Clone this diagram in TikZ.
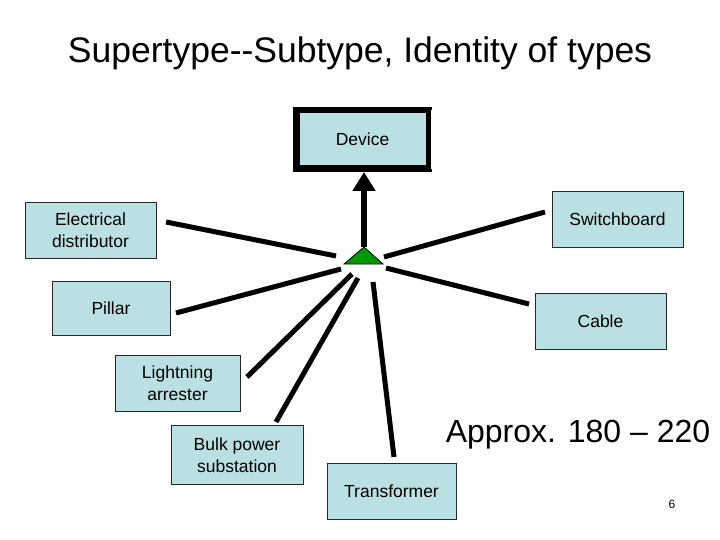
\documentclass[tikz,border=0pt]{standalone}
\usepackage{fontspec}
\setmainfont{Liberation Sans}
\usetikzlibrary{arrows.meta}
\definecolor{boxblue}{RGB}{187,224,227}
\definecolor{trigreen}{RGB}{0,153,0}
\begin{document}
\begin{tikzpicture}[x=1pt,y=-1pt,
  box/.style={draw=black!85, line width=0.8pt, fill=boxblue, align=center, inner sep=0pt,
    font=\fontsize{17.5}{21.5}\selectfont},
  spoke/.style={line width=5pt},
  uparrow/.style={line width=6pt, -{Triangle[width=22pt,length=19pt]}},
]
\useasboundingbox[fill=white] (0,0) rectangle (720,540);
\node[font=\fontsize{35.5}{40}\selectfont] (title) at (360,53) {Supertype{-}{-}Subtype, Identity of types};

% Device box with heavy border
\node[box, draw=black, line width=6.5pt, minimum width=132.5pt, minimum height=58.5pt] (dev) at (362.5,139.5) {Device};
\draw[white, line width=1.4pt] ([xshift=-0.2pt,yshift=-3pt]dev.north east) -- ([xshift=-0.2pt,yshift=3pt]dev.south east);

% subtype boxes
\node[box, minimum width=131pt, minimum height=56pt] (ed) at (90.5,230) {Electrical\\distributor};
\node[box, minimum width=131pt, minimum height=56pt] (sw) at (617.5,219) {Switchboard};
\node[box, minimum width=118pt, minimum height=54pt] (pil) at (111,308) {Pillar};
\node[box, minimum width=131pt, minimum height=56pt] (cab) at (600.5,321) {Cable};
\node[box, minimum width=125pt, minimum height=56pt] (la) at (177.5,383) {Lightning\\arrester};
\node[box, minimum width=132pt, minimum height=59pt] (bps) at (237,455) {Bulk power\\substation};
\node[box, minimum width=129pt, minimum height=56pt] (tr) at (391.5,491) {Transformer};

% hub triangle
\coordinate (apex) at (364,247);
\coordinate (bl) at (344,264);
\coordinate (br) at (383,264);
\draw[uparrow] (apex) -- (apex |- dev.south);
\draw[fill=trigreen, line width=0.8pt] (bl) -- (apex) -- (br) -- cycle;

% spokes
\coordinate (s1a) at (336,256); \coordinate (s1b) at (166,222);
\coordinate (s2a) at (384,257); \coordinate (s2b) at (545,212);
\coordinate (s3a) at (341,269); \coordinate (s3b) at (176,313);
\coordinate (s4a) at (386,268); \coordinate (s4b) at (529,304);
\coordinate (s5a) at (352,274); \coordinate (s5b) at (247,377);
\coordinate (s6a) at (358,278); \coordinate (s6b) at (276,422);
\coordinate (s7a) at (373,282); \coordinate (s7b) at (394,457);
\draw[spoke] (s1a) -- (s1b);
\draw[spoke] (s2a) -- (s2b);
\draw[spoke] (s3a) -- (s3b);
\draw[spoke] (s4a) -- (s4b);
\draw[spoke] (s5a) -- (s5b);
\draw[spoke] (s6a) -- (s6b);
\draw[spoke] (s7a) -- (s7b);

\node[font=\fontsize{32}{36}\selectfont] (approx) at (578,435) {Approx. 180 – 220};
\node[font=\fontsize{12}{14}\selectfont] (pg) at (672,504) {6};
\end{tikzpicture}
\end{document}
